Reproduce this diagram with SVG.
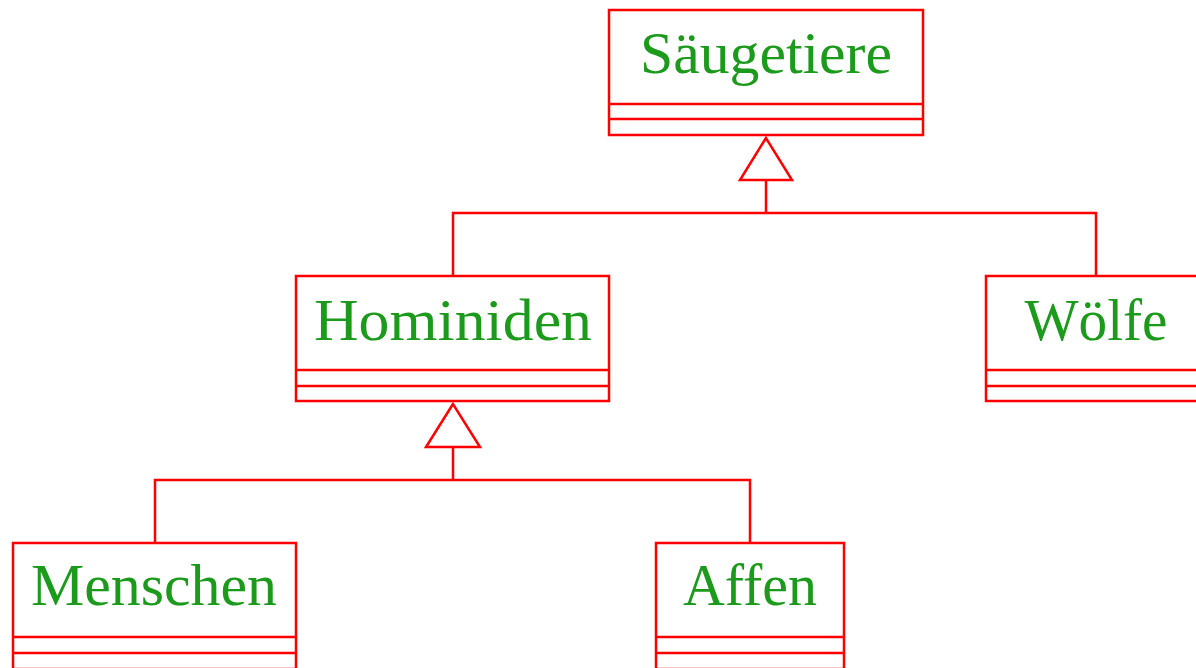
<svg xmlns="http://www.w3.org/2000/svg" width="1196" height="668" viewBox="0 0 1196 668">
<style>
.box{fill:#ffffff;stroke:#ff0000;stroke-width:2.5}
.ln{fill:none;stroke:#ff0000;stroke-width:2.5}
.lbl{font-family:"Liberation Serif","Times New Roman",serif;font-size:60px;fill:#1c9a1c;text-anchor:middle}
</style>
<rect width="1196" height="668" fill="#ffffff"/>
<g id="connectors">
<path class="ln" d="M453,276 V213 H1096 V276 M766,213 V180"/>
<polygon class="ln" points="766,138 740,180 792,180"/>
<path class="ln" d="M155,543 V480 H750 V543 M453,480 V447"/>
<polygon class="ln" points="453,404 426,447 480,447"/>
</g>
<g id="saeugetiere">
<rect class="box" x="609" y="10" width="314" height="125"/>
<path class="ln" d="M609,104 H923 M609,119 H923"/>
<text class="lbl" x="766" y="73" textLength="252" lengthAdjust="spacingAndGlyphs">Säugetiere</text>
</g>
<g id="hominiden">
<rect class="box" x="296" y="276" width="313" height="125"/>
<path class="ln" d="M296,370 H609 M296,386 H609"/>
<text class="lbl" x="453" y="340" textLength="278" lengthAdjust="spacingAndGlyphs">Hominiden</text>
</g>
<g id="woelfe">
<rect class="box" x="986" y="276" width="220" height="125"/>
<path class="ln" d="M986,370 H1206 M986,386 H1206"/>
<text class="lbl" x="1096" y="340" textLength="143" lengthAdjust="spacingAndGlyphs">Wölfe</text>
</g>
<g id="menschen">
<rect class="box" x="13" y="543" width="283" height="126"/>
<path class="ln" d="M13,637 H296 M13,653 H296"/>
<text class="lbl" x="154" y="605" textLength="246" lengthAdjust="spacingAndGlyphs">Menschen</text>
</g>
<g id="affen">
<rect class="box" x="656" y="543" width="188" height="126"/>
<path class="ln" d="M656,637 H844 M656,653 H844"/>
<text class="lbl" x="750" y="605" textLength="134" lengthAdjust="spacingAndGlyphs">Affen</text>
</g>
</svg>
